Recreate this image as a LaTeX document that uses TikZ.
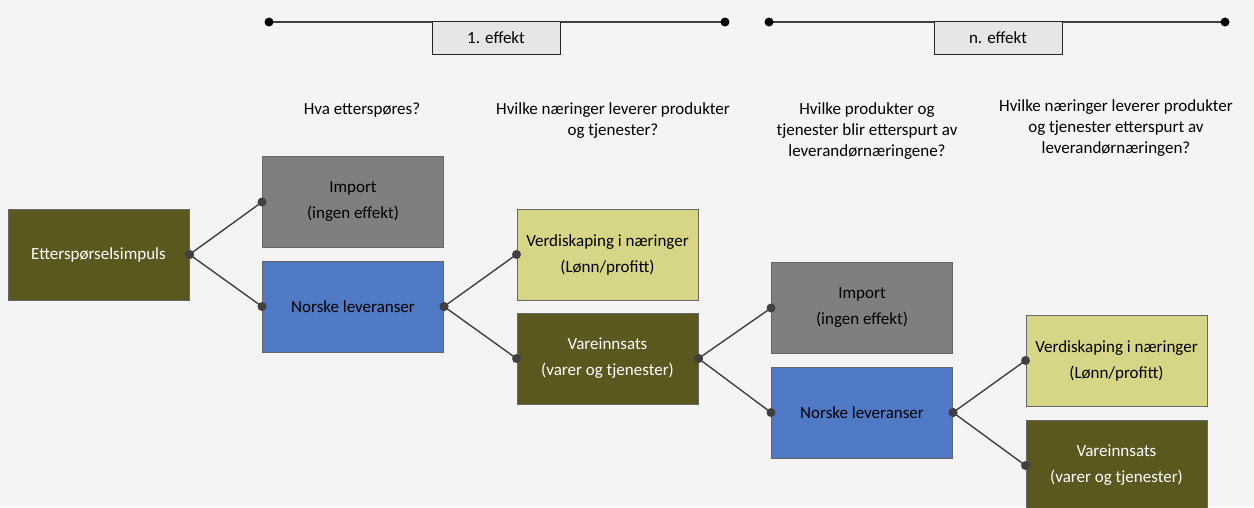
\documentclass[tikz,border=0pt]{standalone}
\usepackage{fontspec}
\setmainfont{Carlito}
\definecolor{olivebox}{RGB}{90,88,31}
\definecolor{graybox}{RGB}{127,127,127}
\definecolor{bluebox}{RGB}{80,122,198}
\definecolor{yellowbox}{RGB}{215,214,135}
\definecolor{tagbox}{RGB}{230,230,230}
\definecolor{linkgray}{RGB}{64,64,64}
\definecolor{bggray}{RGB}{244,244,244}

\begin{document}
\begin{tikzpicture}[x=1pt,y=-1pt,
        box/.style={draw=black!60, line width=1pt, minimum width=181pt, minimum height=91pt,
            inner sep=0pt, align=center, font=\fontsize{17}{26}\selectfont},
        olive/.style={box, fill=olivebox, text=white},
        grey/.style={box, fill=graybox},
        blue/.style={box, fill=bluebox},
        yellow/.style={box, fill=yellowbox},
        question/.style={align=center, inner sep=0pt, font=\fontsize{17}{21}\selectfont},
        tag/.style={draw=black!85, line width=1pt, fill=tagbox, minimum width=128pt, minimum height=33pt,
            inner sep=0pt, font=\fontsize{17}{21}\selectfont},
        link/.style={draw=linkgray, line width=1.4pt}]
            \fill[bggray] (0,0) rectangle (1254,507);
            \useasboundingbox (0,0) rectangle (1254,507);
            \def\dx{254.5}

            \coordinate (e1a) at (269,22);
            \coordinate (e1b) at (725,22);
            \coordinate (ena) at (769,22);
            \coordinate (enb) at (1225,22);
            \draw[link] (e1a) -- (e1b) (ena) -- (enb);
            \fill (e1a) circle (4.5pt) (e1b) circle (4.5pt) (ena) circle (4.5pt) (enb) circle (4.5pt);
            \node[tag] (effekt1) at (496,37.5) {1. effekt};
            \node[tag] (effektn) at (998,37.5) {n. effekt};

            \node[question] (q1) at (362,110) {Hva etterspøres?};
            \node[question] (q2) at (613,121) {Hvilke næringer leverer produkter\\og tjenester?};
            \node[question] (q3) at (867,131.5) {Hvilke produkter og\\tjenester blir etterspurt av\\leverandørnæringene?};
            \begin{scope}
                \clip (980,90) rectangle (1232,165);
                \node[question] (q4) at (1116,128) {Hvilke næringer leverer produkter\\og tjenester etterspurt av\\leverandørnæringen?};
            \end{scope}

            \node[olive] (impuls) at (98.5,254.5) {Etterspørselsimpuls};
            \node[grey] (import1) at (98.5+\dx,202) {Import\\(ingen effekt)};
            \node[blue] (norsk1) at (98.5+\dx,306.5) {Norske leveranser};
            \node[yellow] (verdi1) at (98.5+2*\dx,254.5) {Verdiskaping i næringer\\(Lønn/profitt)};
            \node[olive] (vare1) at (98.5+2*\dx,358.5) {Vareinnsats\\(varer og tjenester)};
            \node[grey] (import2) at (98.5+3*\dx,308) {Import\\(ingen effekt)};
            \node[blue] (norsk2) at (98.5+3*\dx,412.5) {Norske leveranser};
            \node[yellow] (verdi2) at (98.5+4*\dx,360.5) {Verdiskaping i næringer\\(Lønn/profitt)};
            \node[olive] (vare2) at (98.5+4*\dx,465.5) {Vareinnsats\\(varer og tjenester)};

            \foreach \a/\b in {impuls/import1, impuls/norsk1, norsk1/verdi1, norsk1/vare1,
                    vare1/import2, vare1/norsk2, norsk2/verdi2, norsk2/vare2} {
                \draw[link] (\a.east) -- (\b.west);
                \fill[linkgray] (\a.east) circle (4.5pt) (\b.west) circle (4.5pt);
            }
        \end{tikzpicture}
\end{document}
